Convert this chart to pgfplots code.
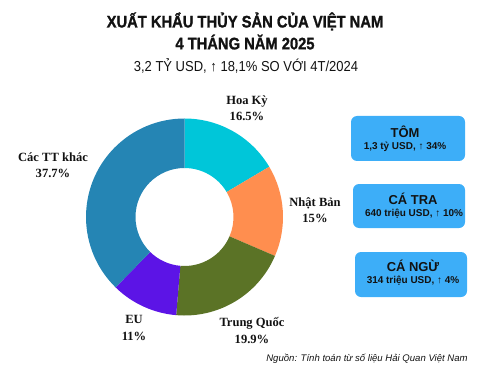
\documentclass[border=0pt]{standalone}
\usepackage{pgfplots}
\pgfplotsset{compat=1.18}
\usepackage{pgfplotstable}
\usepackage{fontspec}
\setmainfont{Liberation Serif}
\newfontfamily\condbold{Liberation Sans Bold}[FakeStretch=0.88, FakeBold=1.2]
\newfontfamily\condreg{Liberation Sans}[FakeStretch=0.9]
\newfontfamily\sansfont{Liberation Sans}

\definecolor{cHoa}{HTML}{00C6D9}
\definecolor{cNhat}{HTML}{FF8E4F}
\definecolor{cTrung}{HTML}{5B7326}
\definecolor{cEU}{HTML}{5C14E6}
\definecolor{cKhac}{HTML}{2585B4}
\definecolor{boxblue}{HTML}{3DAEF8}
\definecolor{txt}{HTML}{121212}

% market shares (%), clockwise from the top
\pgfplotstableread{
value
16.5
15.0
19.9
11.0
37.7
}\sharetable

\begin{document}
\begin{tikzpicture}
\begin{axis}[
  scale only axis, width=500bp, height=375bp,
  xmin=0, xmax=500, ymin=0, ymax=375,
  axis lines=none, clip=false]
\path (axis cs:0,0) rectangle (axis cs:500,375);
\pgfplotsextra{%
  \gdef\total{0}%
  \foreach \i in {0,...,4} {%
    \pgfplotstablegetelem{\i}{value}\of\sharetable
    \pgfmathsetmacro\tmp{\total+\pgfplotsretval}%
    \global\let\total\tmp
  }%
  \gdef\startang{90}%
  \foreach \i/\col in {0/cHoa,1/cNhat,2/cTrung,3/cEU,4/cKhac} {%
    \pgfplotstablegetelem{\i}{value}\of\sharetable
    \pgfmathsetmacro\endang{\startang-360*\pgfplotsretval/\total}%
    \fill[\col] (axis cs:184.5,158) ++(\startang:98.5bp)
      arc[start angle=\startang, end angle=\endang, radius=98.5bp]
      -- ++(\endang:-49.5bp)
      arc[start angle=\endang, end angle=\startang, radius=49bp] -- cycle;
    \global\let\startang\endang
  }%
}
% segment labels
\begin{scope}[every node/.style={align=center, text=txt,
   font=\fontsize{12.6}{16.5}\selectfont\bfseries}]
\node at (axis cs:247,375-108.5) {Hoa Kỳ\\16.5\%};
\node at (axis cs:315,375-210) {Nhật Bản\\15\%};
\node at (axis cs:252,375-330.5) {Trung Quốc\\19.9\%};
\node at (axis cs:134,375-328) {EU\\11\%};
\node at (axis cs:53,375-165) {Các TT khác\\37.7\%};
\end{scope}
% title
\node[text=txt, font=\condbold\fontsize{16.8}{22}\selectfont, align=center]
  at (axis cs:245,375-31) {XUẤT KHẨU THỦY SẢN CỦA VIỆT NAM\\4 THÁNG NĂM 2025};
\node[text=txt, font=\condreg\fontsize{14.5}{17}\selectfont]
  at (axis cs:246,375-66) {3,2 TỶ USD, ↑ 18,1\% SO VỚI 4T/2024};
% boxes
\fill[boxblue, rounded corners=6bp] (axis cs:351,375-116) rectangle (axis cs:465,375-161);
\fill[boxblue, rounded corners=6bp] (axis cs:353,375-184) rectangle (axis cs:465,375-228);
\fill[boxblue, rounded corners=6bp] (axis cs:355,375-252) rectangle (axis cs:467,375-297);
\begin{scope}[every node/.style={text=txt}]
\node[font=\sansfont\fontsize{13}{15}\selectfont\bfseries] at (axis cs:405,375-132) {TÔM};
\node[font=\sansfont\fontsize{10}{11}\selectfont\bfseries] at (axis cs:405,375-147) {1,3 tỷ USD, ↑ 34\%};
\node[font=\sansfont\fontsize{13}{15}\selectfont\bfseries] at (axis cs:413,375-199) {CÁ TRA};
\node[font=\sansfont\fontsize{10}{11}\selectfont\bfseries] at (axis cs:414,375-214) {640 triệu USD, ↑ 10\%};
\node[font=\sansfont\fontsize{13}{15}\selectfont\bfseries] at (axis cs:413,375-266) {CÁ NGỪ};
\node[font=\sansfont\fontsize{10}{11}\selectfont\bfseries] at (axis cs:413,375-281) {314 triệu USD, ↑ 4\%};
\end{scope}
% source
\node[text=txt, font=\sansfont\fontsize{9.6}{11}\selectfont\itshape]
  at (axis cs:367,375-359) {Nguồn: Tính toán từ số liệu Hải Quan Việt Nam};
\end{axis}
\end{tikzpicture}
\end{document}
